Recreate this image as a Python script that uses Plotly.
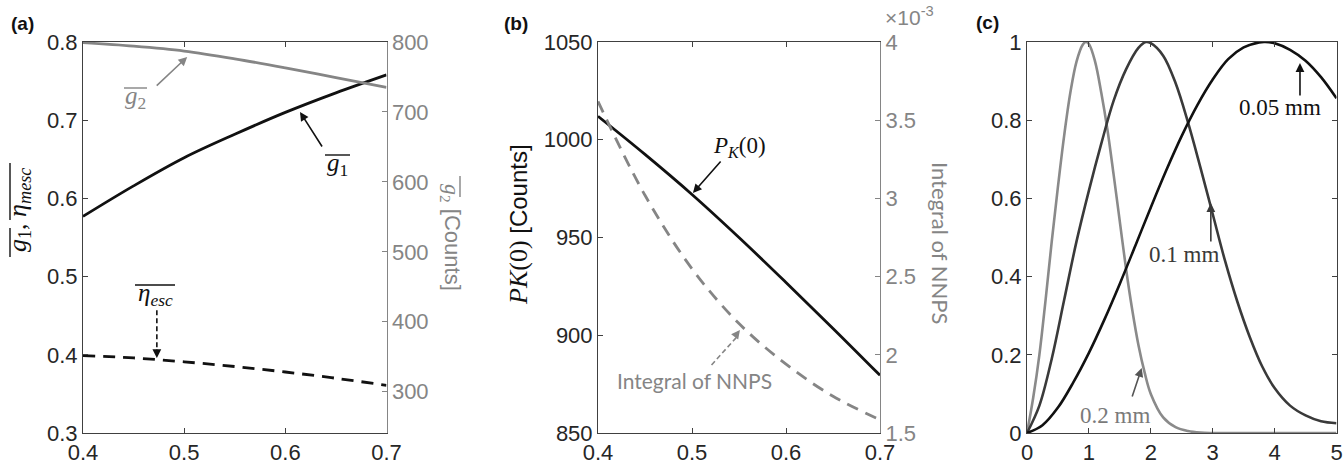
import plotly.graph_objects as go

# ---------------- data ----------------
# panel (a)
x_a = [0.40, 0.45, 0.50, 0.55, 0.60, 0.65, 0.70]
g1_mean = [0.577, 0.616, 0.652, 0.682, 0.710, 0.735, 0.758]
g2_mean_counts = [799, 794, 787, 776, 763, 749, 735]
eta_esc_mean = [0.399, 0.396, 0.391, 0.385, 0.378, 0.370, 0.361]

# panel (b)
x_b = [0.40, 0.45, 0.50, 0.55, 0.60, 0.65, 0.70]
pk0_counts = [1012.0, 992.5, 972.0, 950.0, 927.0, 903.5, 879.5]
nnps_integral_e3 = [3.62, 3.02, 2.55, 2.20, 1.94, 1.735, 1.585]   # x 10^-3

# panel (c)
x_c_02 = [0, 0.1, 0.2, 0.3, 0.4, 0.5, 0.6, 0.7, 0.8, 0.9, 0.95, 1.0, 1.1, 1.2, 1.3,
          1.4, 1.5, 1.6, 1.7, 1.8, 1.9, 2.0, 2.2, 2.4, 2.6, 2.8, 3.0, 4.0, 5.0]
y_c_02 = [0, 0.09, 0.2, 0.34, 0.49, 0.63, 0.76, 0.87, 0.95, 0.993, 1.0, 0.995, 0.95, 0.87, 0.775,
          0.66, 0.54, 0.42, 0.315, 0.225, 0.155, 0.10, 0.04, 0.015, 0.005, 0.001, 0, 0, 0]
x_c_01 = [0, 0.2, 0.4, 0.6, 0.8, 1.0, 1.2, 1.4, 1.6, 1.8, 1.92, 2.0, 2.2, 2.4, 2.6,
          2.8, 3.0, 3.2, 3.4, 3.6, 3.8, 4.0, 4.25, 4.5, 4.75, 5.0]
y_c_01 = [0, 0.07, 0.19, 0.34, 0.49, 0.62, 0.74, 0.85, 0.93, 0.985, 1.0, 0.997, 0.965, 0.895, 0.795,
          0.68, 0.56, 0.44, 0.335, 0.245, 0.17, 0.115, 0.07, 0.045, 0.03, 0.025]
x_c_005 = [0, 0.25, 0.5, 0.75, 1.0, 1.25, 1.5, 1.75, 2.0, 2.25, 2.5, 2.75, 3.0, 3.25,
           3.5, 3.75, 3.85, 4.0, 4.25, 4.5, 4.75, 5.0]
y_c_005 = [0, 0.02, 0.065, 0.13, 0.205, 0.29, 0.382, 0.479, 0.577, 0.672, 0.76, 0.838, 0.904, 0.956,
           0.986, 0.999, 1.0, 0.997, 0.98, 0.952, 0.91, 0.856]

# tick labels
ticks_a_x = [0.4, 0.5, 0.6, 0.7]
ticks_a_left = [0.3, 0.4, 0.5, 0.6, 0.7, 0.8]
ticks_a_right = [300, 400, 500, 600, 700, 800]
ticks_b_left = [850, 900, 950, 1000, 1050]
ticks_b_right = [1.5, 2, 2.5, 3, 3.5, 4]
ticks_c_x = [0, 1, 2, 3, 4, 5]
ticks_c_y = [0, 0.2, 0.4, 0.6, 0.8, 1]

# ---------------- styles ----------------
BLACK = "#111111"
GRAY = "#858585"
DARK = "#3a3a3a"
AXC = "#404040"
SANS = "Liberation Sans, Arial, sans-serif"
SERIF = "Liberation Serif, Times New Roman, serif"
HUM = "Lato, Noto Sans, sans-serif"
W, H = 1343, 464

def PX(x):
    return x / W

def PY(y):
    return 1 - y / H

fig = go.Figure()

# (a)
fig.add_trace(go.Scatter(x=x_a, y=g1_mean, mode="lines", line=dict(color=BLACK, width=2.8, shape="spline"),
                         xaxis="x", yaxis="y", showlegend=False))
fig.add_trace(go.Scatter(x=x_a, y=eta_esc_mean, mode="lines",
                         line=dict(color=BLACK, width=2.8, dash="12px,8px", shape="spline"),
                         xaxis="x", yaxis="y", showlegend=False))
fig.add_trace(go.Scatter(x=x_a, y=g2_mean_counts, mode="lines", line=dict(color=GRAY, width=2.8, shape="spline"),
                         xaxis="x", yaxis="y2", showlegend=False))
# (b)
fig.add_trace(go.Scatter(x=x_b, y=pk0_counts, mode="lines", line=dict(color=BLACK, width=2.8, shape="spline"),
                         xaxis="x2", yaxis="y3", showlegend=False))
fig.add_trace(go.Scatter(x=x_b, y=nnps_integral_e3, mode="lines",
                         line=dict(color=GRAY, width=2.8, dash="12px,8px", shape="spline"),
                         xaxis="x2", yaxis="y4", showlegend=False))
# (c)
fig.add_trace(go.Scatter(x=x_c_02, y=y_c_02, mode="lines", line=dict(color="#8a8a8a", width=2.6, shape="spline"),
                         xaxis="x3", yaxis="y5", showlegend=False))
fig.add_trace(go.Scatter(x=x_c_01, y=y_c_01, mode="lines", line=dict(color=DARK, width=2.6, shape="spline"),
                         xaxis="x3", yaxis="y5", showlegend=False))
fig.add_trace(go.Scatter(x=x_c_005, y=y_c_005, mode="lines", line=dict(color=BLACK, width=2.6, shape="spline"),
                         xaxis="x3", yaxis="y5", showlegend=False))

YDOM = [PY(433), PY(42)]
tf = dict(family=SANS, size=22, color="#262626")
tfg = dict(family=SANS, size=22, color=GRAY)
common = dict(showgrid=False, zeroline=False, showline=True, linewidth=1, ticks="inside", ticklen=5,
              tickwidth=1, automargin=False)

fig.update_layout(
    width=W, height=H, margin=dict(l=0, r=0, t=0, b=0, pad=0, autoexpand=False),
    paper_bgcolor="white", plot_bgcolor="white",
    xaxis=dict(domain=[PX(83), PX(386.5)], range=[0.4, 0.7], tickvals=ticks_a_x, anchor="y",
               mirror="ticks", linecolor=AXC, tickcolor=AXC, tickfont=tf, **common),
    yaxis=dict(domain=YDOM, range=[0.3, 0.8], tickvals=ticks_a_left, tickformat=".1f", anchor="x",
               linecolor=AXC, tickcolor=AXC, tickfont=tf, **common),
    yaxis2=dict(overlaying="y", side="right", anchor="x", range=[241, 800], tickvals=ticks_a_right,
                linecolor=GRAY, tickcolor=GRAY, tickfont=tfg, **common),
    xaxis2=dict(domain=[PX(598), PX(880)], range=[0.4, 0.7], tickvals=ticks_a_x, anchor="y3",
                mirror="ticks", linecolor=AXC, tickcolor=AXC, tickfont=tf, **common),
    yaxis3=dict(domain=YDOM, range=[850, 1050], tickvals=ticks_b_left, anchor="x2",
                linecolor=AXC, tickcolor=AXC, tickfont=tf, **common),
    yaxis4=dict(overlaying="y3", side="right", anchor="x2", range=[1.5, 4], tickvals=ticks_b_right,
                linecolor=GRAY, tickcolor=GRAY, tickfont=tfg, **common),
    xaxis3=dict(domain=[PX(1027), PX(1336.5)], range=[0, 5], tickvals=ticks_c_x, anchor="y5",
                mirror="ticks", linecolor=AXC, tickcolor=AXC, tickfont=tf, **common),
    yaxis5=dict(domain=YDOM, range=[0, 1], tickvals=ticks_c_y, anchor="x3", mirror="ticks",
                linecolor=AXC, tickcolor=AXC, tickfont=tf, **common),
)

ann = []
def txt(x, y, text, size=20, color=BLACK, family=SANS, angle=0, xanchor="center", yanchor="middle"):
    ann.append(dict(x=PX(x), y=PY(y), xref="paper", yref="paper", text=text, showarrow=False,
                    font=dict(size=size, color=color, family=family), textangle=angle,
                    xanchor=xanchor, yanchor=yanchor, borderpad=0))

def arrow(x, y, xr, yr, ax, ay, color=BLACK):
    ann.append(dict(x=x, y=y, xref=xr, yref=yr, ax=ax, ay=ay, axref="pixel", ayref="pixel", text="",
                    showarrow=True, arrowhead=2, arrowsize=1.1, arrowwidth=1.6, arrowcolor=color))

shapes = []
def hbar(x0, x1, y, color=BLACK):
    shapes.append(dict(type="line", xref="paper", yref="paper", x0=PX(x0), x1=PX(x1), y0=PY(y), y1=PY(y),
                       line=dict(color=color, width=1.4)))

def vbar(x, y0, y1, color=BLACK):
    shapes.append(dict(type="line", xref="paper", yref="paper", x0=PX(x), x1=PX(x), y0=PY(y0), y1=PY(y1),
                       line=dict(color=color, width=1.4)))

# panel letters
txt(22, 24, "<b>(a)</b>", size=19)
txt(516, 24, "<b>(b)</b>", size=19)
txt(988, 23, "<b>(c)</b>", size=19)

# axis titles
txt(19, 210, "<i>g</i><sub>1</sub>, <i>η</i><sub><i>mesc</i></sub>", size=26, family=SERIF, angle=-90)
vbar(10, 228, 257)
vbar(10, 163, 220)
txt(451, 237, '<span style="font-family:Liberation Serif"><i>g</i><sub>2</sub></span> [Counts]',
    size=22, color=GRAY, family=SANS, angle=90)
vbar(460, 176, 197, GRAY)
txt(518, 225, '<span style="font-family:Liberation Serif;font-size:26px"><i>PK</i>(0)</span> [Counts]',
    size=24, family=SANS, angle=-90)
txt(940, 243, "Integral of NNPS", size=22, color=GRAY, family=HUM, angle=90)
txt(910, 16, "×10<sup>-3</sup>", size=21, color=GRAY, family=SANS)

# (a) labels and arrows
txt(135.5, 97, "<i>g</i><sub>2</sub>", size=25, color=GRAY, family=SERIF)
hbar(124, 147, 88, GRAY)
arrow(0.503, 778.6, "x", "y2", -32, 30, GRAY)
txt(337.5, 164, "<i>g</i><sub>1</sub>", size=25, family=SERIF)
hbar(325, 350, 155)
arrow(0.6145, 0.7105, "x", "y", 23, 36)
txt(155, 294, "<i>η</i><sub><i>esc</i></sub>", size=25, family=SERIF)
hbar(135, 175, 285)
arrow(0.473, 0.396, "x", "y", 0, -10)

# (b) labels and arrows
txt(740, 147, "<i>P</i><sub><i>K</i></sub>(0)", size=23, family=SERIF)
arrow(0.501, 972.8, "x2", "y3", 29, -33)
txt(695, 380, "Integral of NNPS", size=21, color=GRAY, family=HUM)
arrow(0.551, 2.159, "x2", "y4", -6, 8, GRAY)

# (c) labels and arrows
txt(1280, 107, "0.05 mm", size=23, family=SERIF)
arrow(4.41, 0.946, "x3", "y5", 0, 34)
txt(1184, 255, "0.1 mm", size=23, color=DARK, family=SERIF)
arrow(2.97, 0.588, "x3", "y5", 0, 40, DARK)
txt(1115, 415, "0.2 mm", size=23, color="#7a7a7a", family=SERIF)
arrow(1.853, 0.166, "x3", "y5", -10, 30, "#555555")

# dashed arrow shafts
shapes.append(dict(type="line", xref="x", yref="y", x0=0.473, x1=0.473, y0=0.457, y1=0.405,
                   line=dict(color=BLACK, width=1.6, dash="5px,3px")))
shapes.append(dict(type="line", xref="x2", yref="y4", x0=0.5208, x1=0.547, y0=1.935, y1=2.11,
                   line=dict(color=GRAY, width=1.6, dash="5px,3px")))

fig.update_layout(annotations=ann, shapes=shapes)
fig.write_html("out.html", config={"displayModeBar": False},
               post_script="document.body.style.margin='0px';document.body.style.overflow='hidden';")
